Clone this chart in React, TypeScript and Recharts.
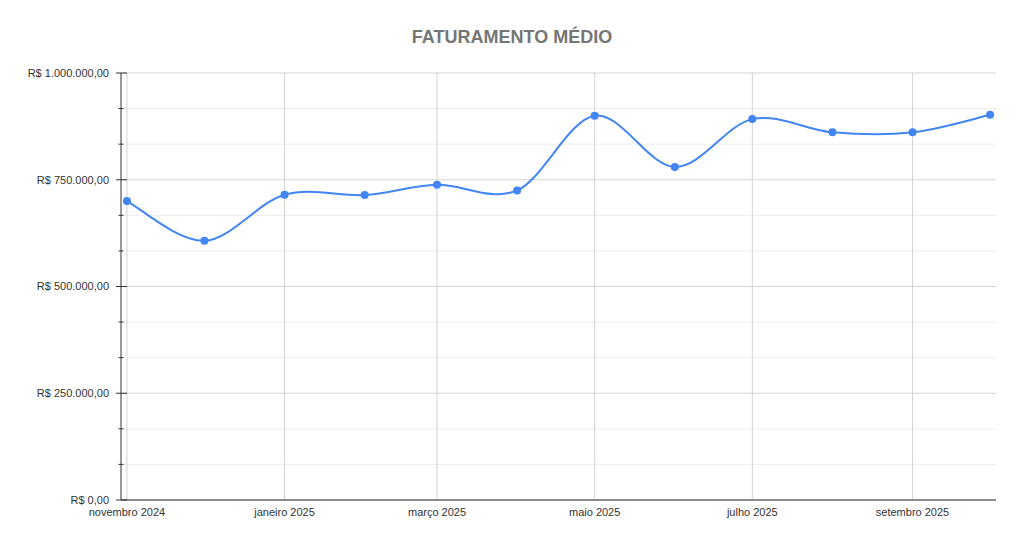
import { LineChart, Line, XAxis, YAxis, CartesianGrid } from 'recharts'

const months = [
  '2024-11-01', '2024-12-01', '2025-01-01', '2025-02-01', '2025-03-01', '2025-04-01',
  '2025-05-01', '2025-06-01', '2025-07-01', '2025-08-01', '2025-09-01', '2025-10-01',
]
const faturamento = [
  700000, 607000, 715000, 714000, 738000, 725000,
  900000, 780000, 892000, 861000, 861000, 902000,
]
const xTickDates = ['2024-11-01', '2025-01-01', '2025-03-01', '2025-05-01', '2025-07-01', '2025-09-01']
const majorYTicks = [0, 250000, 500000, 750000, 1000000]
const minorYTicks = [
  83333, 166667, 333333, 416667, 583333, 666667, 833333, 916667,
]
const monthNames = [
  'janeiro', 'fevereiro', 'março', 'abril', 'maio', 'junho',
  'julho', 'agosto', 'setembro', 'outubro', 'novembro', 'dezembro',
]

const toTs = (s: string) => {
  const [y, m, d] = s.split('-').map(Number)
  return Date.UTC(y, m - 1, d)
}

const DAY = 86400000
const data = months.map((m, i) => ({ date: toTs(m), value: faturamento[i] }))
const xTicks = xTickDates.map(toTs)
const xDomain = [toTs(months[0]) - 2.3 * DAY, toTs(months[months.length - 1]) + 2.3 * DAY]
const allYTicks = [...majorYTicks, ...minorYTicks].sort((a, b) => a - b)

const formatBRL = (v: number) => {
  const [int, dec] = v.toFixed(2).split('.')
  return 'R$ ' + int.replace(/\B(?=(\d{3})+(?!\d))/g, '.') + ',' + dec
}

const formatMonth = (ts: number) => {
  const d = new Date(ts)
  return `${monthNames[d.getUTCMonth()]} ${d.getUTCFullYear()}`
}

// catmull-rom style spline, close to the sheets "smooth" line
const smoothCurve = (context: any) => {
  let pts: [number, number][] = []
  return {
    areaStart() {},
    areaEnd() {},
    lineStart() {
      pts = []
    },
    lineEnd() {
      if (!pts.length) return
      context.moveTo(pts[0][0], pts[0][1])
      const k = 1 / 6
      for (let i = 0; i < pts.length - 1; i++) {
        const p0 = pts[Math.max(i - 1, 0)]
        const p1 = pts[i]
        const p2 = pts[i + 1]
        const p3 = pts[Math.min(i + 2, pts.length - 1)]
        context.bezierCurveTo(
          p1[0] + (p2[0] - p0[0]) * k,
          p1[1] + (p2[1] - p0[1]) * k,
          p2[0] - (p3[0] - p1[0]) * k,
          p2[1] - (p3[1] - p1[1]) * k,
          p2[0],
          p2[1]
        )
      }
    },
    point(x: number, y: number) {
      pts.push([+x, +y])
    },
  }
}

const YTick = (props: any) => {
  const { x, y, payload } = props
  const major = majorYTicks.includes(payload.value)
  return (
    <g>
      {major ? (
        <>
          <line x1={x - 5} x2={x + 6} y1={y} y2={y} stroke="#333" strokeWidth={1} />
          <text
            x={x - 12}
            y={y}
            dy="0.355em"
            textAnchor="end"
            fontSize={11}
            fill="#333"
            fontFamily="'Liberation Sans', Arial, sans-serif"
          >
            {formatBRL(payload.value)}
          </text>
        </>
      ) : (
        <line x1={x - 2.5} x2={x + 2.5} y1={y} y2={y} stroke="#333" strokeWidth={1} />
      )}
    </g>
  )
}

export default function App() {
  return (
    <div style={{ position: 'relative', width: 1024, height: 546, background: '#fff' }}>
      <style>{'body{margin:0}'}</style>
      <div
        style={{
          position: 'absolute',
          top: 28,
          left: 0,
          width: 1024,
          textAlign: 'center',
          fontFamily: "'Liberation Sans', Arial, sans-serif",
          fontWeight: 'bold',
          fontSize: 18,
          lineHeight: '18px',
          color: '#757575',
        }}
      >
        FATURAMENTO MÉDIO
      </div>
      <LineChart
        width={1024}
        height={546}
        data={data}
        margin={{ top: 73, right: 28, bottom: 16, left: 0 }}
      >
        <CartesianGrid
          stroke="#ececec"
          vertical={false}
          horizontalValues={minorYTicks}
        />
        <CartesianGrid
          stroke="#d3d3d3"
          horizontalValues={majorYTicks}
          verticalValues={xTicks}
        />
        <XAxis
          dataKey="date"
          type="number"
          domain={xDomain}
          ticks={xTicks}
          tickFormatter={formatMonth}
          tickLine={false}
          axisLine={{ stroke: '#333' }}
          height={30}
          interval={0}
          tick={{ fontSize: 11, fill: '#333', fontFamily: "'Liberation Sans', Arial, sans-serif" }}
        />
        <YAxis
          type="number"
          domain={[0, 1000000]}
          ticks={allYTicks}
          interval={0}
          width={121}
          tickLine={false}
          tickSize={0}
          tickMargin={0}
          axisLine={{ stroke: '#333' }}
          tick={<YTick />}
        />
        <Line
          dataKey="value"
          type={smoothCurve as any}
          stroke="#4285f4"
          strokeWidth={2}
          dot={{ r: 4, fill: '#4285f4', stroke: 'none' }}
          isAnimationActive={false}
        />
      </LineChart>
    </div>
  )
}
